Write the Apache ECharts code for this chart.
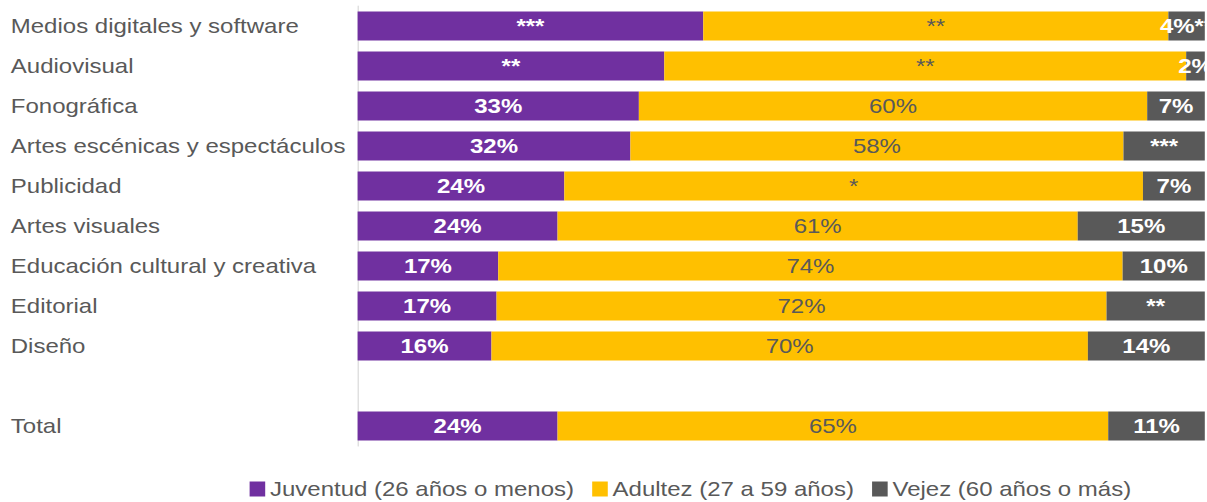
<!DOCTYPE html>
<html>
<head>
<meta charset="utf-8">
<script src="https://cdn.jsdelivr.net/npm/echarts@6/dist/echarts.min.js"></script>
<style>
  html, body { margin: 0; padding: 0; background: #fff; overflow: hidden; }
  /* el gráfico original está estirado horizontalmente ~1.2x */
  #chart { width: 1006px; height: 502px; transform: scaleX(1.2); transform-origin: 0 0; }
</style>
</head>
<body>
<div id="chart"></div>
<script>
// categorías (de arriba hacia abajo)
const categorias = [
  'Medios digitales y software', 'Audiovisual', 'Fonográfica',
  'Artes escénicas y espectáculos', 'Publicidad', 'Artes visuales',
  'Educación cultural y creativa', 'Editorial', 'Diseño', '', 'Total'
]

// porcentajes por grupo de edad
const juventud = [40.8, 36.2, 33.2, 32.2, 24.4, 23.6, 16.6, 16.4, 15.8, null, 23.6]
const adultez = [54.9, 61.6, 60.0, 58.2, 68.3, 61.4, 73.7, 72.0, 70.4, null, 65.0]
const vejez = [4.3, 2.2, 6.8, 9.6, 7.3, 15.0, 9.7, 11.6, 13.8, null, 11.4]

// etiquetas tal como aparecen (asteriscos = poca precisión)
const etiquetasJuventud = ['***', '**', '33%', '32%', '24%', '24%', '17%', '17%', '16%', '', '24%']
const etiquetasAdultez = ['**', '**', '60%', '58%', '*', '61%', '74%', '72%', '70%', '', '65%']
const etiquetasVejez = ['4%**', '2%', '7%', '***', '7%', '15%', '10%', '**', '14%', '', '11%']

const fuente = "'Liberation Sans', Arial, sans-serif"

const chart = echarts.init(document.getElementById('chart'), null, { renderer: 'svg' })

const serie = (name, data, etiquetas, color, labelColor, bold) => ({
  name,
  type: 'bar',
  stack: 'total',
  barWidth: 29,
  data,
  itemStyle: { color },
  label: {
    show: true,
    position: 'inside',
    color: labelColor,
    fontSize: 20,
    fontWeight: bold ? 'bold' : 'normal',
    fontFamily: fuente,
    formatter: p => etiquetas[p.dataIndex]
  },
  emphasis: { disabled: true }
})

chart.setOption({
  animation: false,
  grid: { left: 298, right: 2, top: 6, bottom: 56 },
  xAxis: {
    type: 'value',
    min: 0,
    max: 100,
    show: false
  },
  yAxis: {
    type: 'category',
    data: categorias,
    inverse: true,
    axisLine: { show: true, lineStyle: { color: '#D9D9D9', width: 1 } },
    axisTick: { show: false },
    axisLabel: {
      align: 'left',
      margin: 289,
      fontSize: 20,
      color: '#595959',
      fontFamily: fuente
    }
  },
  legend: {
    left: 203,
    top: 474,
    itemWidth: 13,
    itemHeight: 15,
    itemGap: 15,
    icon: 'rect',
    textStyle: { fontSize: 20, color: '#595959', fontFamily: fuente, padding: [0, 0, 0, -1] },
    data: ['Juventud (26 años o menos)', 'Adultez (27 a 59 años)', 'Vejez (60 años o más)']
  },
  series: [
    serie('Juventud (26 años o menos)', juventud, etiquetasJuventud, '#7030A0', '#FFFFFF', true),
    serie('Adultez (27 a 59 años)', adultez, etiquetasAdultez, '#FFC000', '#595959', false),
    serie('Vejez (60 años o más)', vejez, etiquetasVejez, '#595959', '#FFFFFF', true)
  ]
})
</script>
</body>
</html>
